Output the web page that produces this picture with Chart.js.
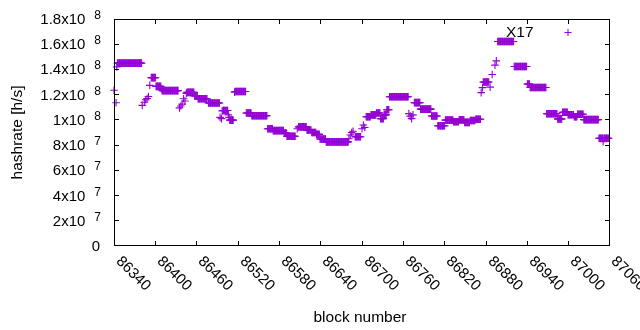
<!DOCTYPE html>
<html lang="en">
<head>
    <meta charset="UTF-8">
    <title>X17 hashrate</title>
    <script src="https://cdn.jsdelivr.net/npm/chart.js@4/dist/chart.umd.min.js"></script>
    <style>
        body {
            margin: 0;
            background-color: #fff;
        }
        canvas {
            display: block;
        }
    </style>
</head>
<body>
    <canvas id="hashrateChart" width="640" height="330"></canvas>

    <script>
        // one value per block, in units of 10^6 h/s, starting at firstBlock
        const firstBlock = 86340;
        const _ = null;
        const hashrate = [
            123.5, _, _, 113.6, 142, 145, 145, 145, 145, 145,
            145, 145, 145, 145, 145, 145, 145, 145, 145, 145,
            145, 145, 145, 145, 145, 145, 145, 145, 145, 145,
            145, 145, 145, 145, 145, 145, 145, 145, 145, 145,
            145, 111.5, _, _, 114, _, 116, _, 117, _,
            118.5, _, 127.4, _, 133.5, 133.5, 133.5, 133.5, 133.5, 133.5,
            133.5, 126.6, 126.6, 126.6, 126.6, 126.6, 126.6, 126.6, 126.6, 124.5,
            123.2, 123.2, 123.2, 123.2, 123.2, 123.2, 123.2, 123.2, 123.2, 123.2,
            123.2, 123.2, 123.2, 123.2, 123.2, 123.2, 123.2, 123.2, 123.2, 123.2,
            123.2, 123.2, 123.2, 123.2, _, 109.5, _, 111, _, 112.5,
            _, 116.8, _, 115, _, 121, 121.8, 121.8, 121.8, 121.8,
            121.8, 121.8, 121.8, 121.8, 121.8, 121.8, 121.8, 119, 119, 119,
            119, 119, 116.8, 116.8, 116.8, 116.8, 116.8, 116.8, 116.8, 116.8,
            116.8, 116.8, 116.8, 116.8, 116.8, 116.8, _, 113.4, 113.4, 113.4,
            113.4, 113.4, 113.4, 113.4, 113.4, 113.4, 113.4, 113.4, 113.4, 113.4,
            113.4, 113.4, 113.4, 113.4, 102, _, 101, 107, 107.5, 107.5,
            107.5, 107.5, 107.5, 107.5, 107.5, 107.5, 104, 102, 99.8, 99.8,
            99.8, 99.8, 99.8, 99.8, _, 122, 122.5, 122.5, 122.5, 122.5,
            122.5, 122.5, 122.5, 122.5, 122.5, 122.5, 122.5, 122.5, 122.5, 122.5,
            122.5, 122.5, 105.5, 105.5, 105.5, 105.5, 105.5, 105.5, 105.5, 105.5,
            103.3, 103.3, 103.3, 103.3, 103.3, 103.3, 103.3, 103.3, 103.3, 103.3,
            103.3, 103.3, 103.3, 103.3, 103.3, 103.3, 103.3, 103.3, 103.3, 103.3,
            103.3, 103.3, 103.3, 93, 93, 93, 93, 93, 93, 93,
            93, 91.5, 91.5, 91.5, 91.5, 91.5, 91.5, 91.5, 91.5, 91.5,
            91.5, 91.5, 91.5, 91.5, 91.5, 91.5, 91.5, 89.5, 89.5, 89.5,
            89.5, 87, 87, 87, 87, 87, 87, 87, 87, 87,
            87, 87, 87, 87, _, _, 93, _, 94.5, 94.5,
            94.5, 94.5, 94.5, 94.5, 94.5, 94.5, 94.5, 94.5, 94.5, 94.5,
            92, 92, 92, 92, 92, 92, 92, 90, 90, 90,
            90, 90, 90, 90, 88.5, 88.5, 88.5, 88.5, 88.5, 84.8,
            84.8, 84.8, 84.8, 84.8, 84.8, 84.8, 84.8, 84.8, 82.6, 82.6,
            82.6, 82.6, 82.6, 82.6, 82.6, 82.6, 82.6, 82.6, 82.6, 82.6,
            82.6, 82.6, 82.6, 82.6, 82.6, 82.6, 82.6, 82.6, 82.6, 82.6,
            82.6, 82.6, 82.6, 82.6, 82.6, 82.6, 82.6, 82.6, 82.6, 82.6,
            82.6, 85, _, 88, _, 90, _, 91, _, _,
            86.6, 86.6, 86.6, 86.6, 86.6, 86.6, 86.6, 86.6, 86.6, _,
            93, _, 96, _, 94, _, 102.5, 102.5, 102.5, 102.5,
            102.5, 102.5, 102.5, 104, 104, 104, 104, 104, 104, 104,
            104, 105.5, 105.5, 105.5, 105.5, 105.5, 105.5, 101, 101, 101,
            101, 101, 104, 104, 104, 104, 108, 108, 108, 108,
            118.4, 118.4, 118.4, 118.4, 118.4, 118.4, 118.4, 118.4, 118.4, 118.4,
            118.4, 118.4, 118.4, 118.4, 118.4, 118.4, 118.4, 118.4, 118.4, 118.4,
            118.4, 118.4, 118.4, 118.4, 118.4, 118.4, 118.4, 118.4, 105, _,
            103, _, 101, _, 104, _, 113.7, 113.7, 113.7, 113.7,
            113.7, 113.7, 113.7, 113.7, 113.7, 108.5, 108.5, 108.5, 108.5, 108.5,
            108.5, 108.5, 108.5, 108.5, 108.5, 108.5, 108.5, 108.5, 108.5, 108.5,
            108.5, 103.1, 103.1, 103.1, 103.1, 103.1, 103.1, 103.1, 103.1, 103.1,
            95.3, 95.3, 95.3, 95.3, 95.3, 95.3, 95.3, 95.3, 95.3, 95.3,
            95.3, 99.8, 99.8, 99.8, 99.8, 99.8, 99.8, 99.8, 99.8, 99.8,
            99.8, 99.8, 99.8, 98.5, 98.5, 98.5, 98.5, 98.5, 98.5, 98.5,
            98.5, 100, 100, 100, 100, 100, 100, 100, 100, 98,
            98, 98, 98, 98, 98, 98, 98, 99.5, 99.5, 99.5,
            99.5, 99.5, 99.5, 99.5, 99.5, 100.5, 100.5, 100.5, 100.5, 100.5,
            100.5, 100.5, 100.5, 121.6, _, 125.6, 130, 130, 130, 130,
            130, 130, 130, 130, 130, _, 126, _, _, 136,
            _, _, _, 143.4, _, 146.8, _, 162.2, 162.2, 162.2,
            162.2, 162.2, 162.2, 162.2, 162.2, 162.2, 162.2, 162.2, 162.2, 162.2,
            162.2, 162.2, 162.2, 162.2, 162.2, 162.2, 162.2, 162.2, 162.2, 162.2,
            162.2, 142.3, 142.3, 142.3, 142.3, 142.3, 142.3, 142.3, 142.3, 142.3,
            142.3, 142.3, 142.3, 142.3, 142.3, 142.3, 142.3, 142.3, 142.3, 142.3,
            128.5, 128.5, 128.5, 128.5, 125.7, 125.7, 125.7, 125.7, 125.7, 125.7,
            125.7, 125.7, 125.7, 125.7, 125.7, 125.7, 125.7, 125.7, 125.7, 125.7,
            125.7, 125.7, 125.7, 125.7, 125.7, 125.7, 125.7, 125.7, 104.9, 104.9,
            104.9, 104.9, 104.9, 104.9, 104.9, 104.9, 104.9, 104.9, 104.9, 104.9,
            104.9, 104.9, 104.9, 104.9, 100.8, 100.8, 100.8, 100.8, 100.8, 100.8,
            100.8, 106.1, 106.1, 106.1, 106.1, 106.1, 106.1, 106.1, 106.1, 104.1,
            104.1, 104.1, 104.1, 104.1, 104.1, 104.1, 104.1, 104.1, 102.5, 102.5,
            102.5, 102.5, 102.5, 104.5, 104.5, 104.5, 104.5, 104.5, 104.5, 104.5,
            104.5, 104.5, 100.2, 100.2, 100.2, 100.2, 100.2, 100.2, 100.2, 100.2,
            100.2, 100.2, 100.2, 100.2, 100.2, 100.2, 100.2, 100.2, 100.2, 100.2,
            100.2, 100.2, 100.2, 100.2, 85.4, 85.4, 85.4, 85.4, 85.4, 85.4,
            82.8, 85.4, 85.4, 85.4, 85.4, 85.4, 85.4, 85.4, 85.4, _,
            _
        ];

        const xTickValues = [86340, 86400, 86460, 86520, 86580, 86640, 86700, 86760, 86820, 86880, 86940, 87000, 87060];
        const xTickLabels = ['86340', '86400', '86460', '86520', '86580', '86640', '86700', '86760', '86820', '86880', '86940', '87000', '87060'];
        const yTickValues = [0, 20, 40, 60, 80, 100, 120, 140, 160, 180];
        const yTickMantissa = ['0', '2x10', '4x10', '6x10', '8x10', '1x10', '1.2x10', '1.4x10', '1.6x10', '1.8x10'];
        const yTickExponent = ['', '7', '7', '7', '7', '8', '8', '8', '8', '8'];

        const seriesLabel = 'X17';
        const seriesColor = '#9400d3';
        const fontFamily = '"Liberation Sans", Arial, sans-serif';

        const points = hashrate
            .map((v, i) => ({ x: firstBlock + i, y: v }))
            .filter(p => p.y !== null);

        // gnuplot style frame: border, inward tics on all sides, labels, key
        const gnuplotFrame = {
            id: 'gnuplotFrame',
            afterDraw(chart) {
                const { ctx, chartArea: a, scales } = chart;
                const xs = scales.x;
                const ys = scales.y;
                const tic = 5;
                const clampX = p => Math.min(Math.max(Math.floor(p) + 0.5, a.left + 0.5), a.right - 0.5);
                const clampY = p => Math.min(Math.max(Math.floor(p) + 0.5, a.top + 0.5), a.bottom - 0.5);

                ctx.save();
                ctx.strokeStyle = '#000';
                ctx.lineWidth = 1;
                ctx.strokeRect(a.left + 0.5, a.top + 0.5, a.right - a.left - 1, a.bottom - a.top - 1);

                ctx.beginPath();
                xTickValues.forEach(v => {
                    const px = clampX(xs.getPixelForValue(v));
                    ctx.moveTo(px, a.bottom);
                    ctx.lineTo(px, a.bottom - tic);
                    ctx.moveTo(px, a.top);
                    ctx.lineTo(px, a.top + tic);
                });
                yTickValues.forEach(v => {
                    const py = clampY(ys.getPixelForValue(v));
                    ctx.moveTo(a.left, py);
                    ctx.lineTo(a.left + tic, py);
                    ctx.moveTo(a.right, py);
                    ctx.lineTo(a.right - tic, py);
                });
                ctx.stroke();

                ctx.fillStyle = '#000';

                // x tick labels, rotated by -45 degrees in gnuplot terms
                ctx.font = '15px ' + fontFamily;
                ctx.textAlign = 'left';
                ctx.textBaseline = 'middle';
                xTickValues.forEach((v, i) => {
                    const px = clampX(xs.getPixelForValue(v));
                    ctx.save();
                    ctx.translate(px + 4, a.bottom + 13);
                    ctx.rotate(Math.PI / 4);
                    ctx.fillText(xTickLabels[i], 0, 0);
                    ctx.restore();
                });

                // y tick labels with superscript exponent
                ctx.textAlign = 'right';
                ctx.textBaseline = 'alphabetic';
                const labelRight = 101;
                yTickValues.forEach((v, i) => {
                    const py = ys.getPixelForValue(v);
                    const exp = yTickExponent[i];
                    if (exp) {
                        ctx.font = '12px ' + fontFamily;
                        const expW = ctx.measureText(exp).width;
                        ctx.fillText(exp, labelRight, py);
                        ctx.font = '15px ' + fontFamily;
                        ctx.fillText(yTickMantissa[i], labelRight - expW - 9, py + 5);
                    } else {
                        ctx.font = '15px ' + fontFamily;
                        ctx.fillText(yTickMantissa[i], labelRight - 1, py + 5);
                    }
                });

                // axis titles
                ctx.font = '15.5px ' + fontFamily;
                ctx.textAlign = 'center';
                ctx.fillText('block number', 360, 321.5);
                ctx.save();
                ctx.translate(21.5, (a.top + a.bottom) / 2);
                ctx.rotate(-Math.PI / 2);
                ctx.fillText('hashrate [h/s]', 0, 0);
                ctx.restore();

                // key
                ctx.font = '15.5px ' + fontFamily;
                ctx.textAlign = 'right';
                ctx.fillText(seriesLabel, 533.5, 37);
                ctx.strokeStyle = seriesColor;
                ctx.beginPath();
                ctx.moveTo(564.5, 32.5);
                ctx.lineTo(571.5, 32.5);
                ctx.moveTo(568, 29);
                ctx.lineTo(568, 36);
                ctx.stroke();

                ctx.restore();
            }
        };

        document.addEventListener('DOMContentLoaded', function() {
            const ctx = document.getElementById('hashrateChart').getContext('2d');
            new Chart(ctx, {
                type: 'scatter',
                data: {
                    datasets: [{
                        label: seriesLabel,
                        data: points,
                        pointStyle: 'cross',
                        pointRadius: 3.8,
                        pointHoverRadius: 3.8,
                        pointBorderWidth: 1.1,
                        borderColor: seriesColor,
                        backgroundColor: seriesColor,
                        clip: false
                    }]
                },
                options: {
                    responsive: false,
                    animation: false,
                    events: [],
                    layout: {
                        padding: { left: 114, right: 30, top: 19, bottom: 84 }
                    },
                    scales: {
                        x: { type: 'linear', min: 86340, max: 87060, display: false },
                        y: { type: 'linear', min: 0, max: 180, display: false }
                    },
                    plugins: {
                        legend: { display: false },
                        tooltip: { enabled: false }
                    }
                },
                plugins: [gnuplotFrame]
            });
        });
    </script>
</body>
</html>
